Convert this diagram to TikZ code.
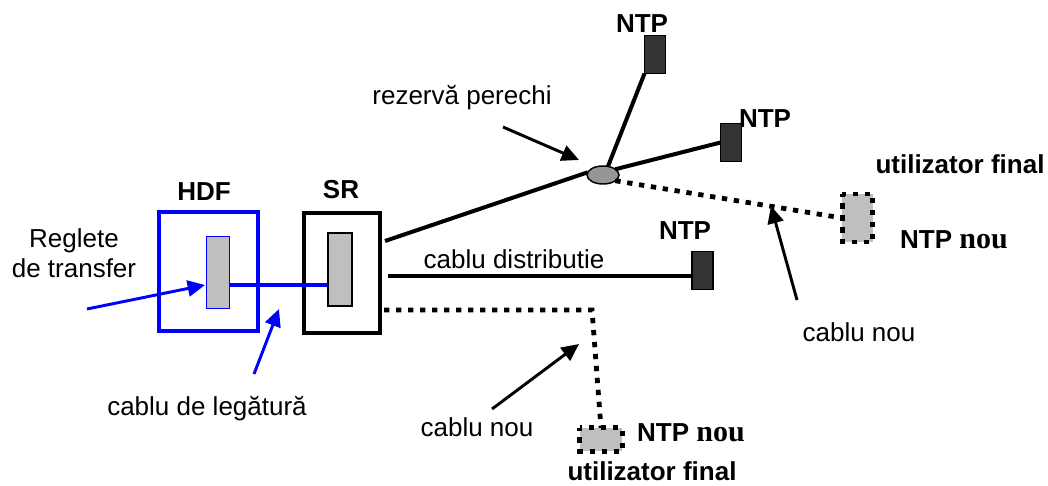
\documentclass[tikz,border=0pt]{standalone}
\usepackage{fontspec}
\setmainfont{Liberation Sans}
\newfontfamily\timesb{Liberation Serif}
\usetikzlibrary{arrows.meta,shapes.geometric}
\definecolor{hdfblue}{RGB}{0,0,255}
\definecolor{ntpdark}{RGB}{51,51,51}
\definecolor{panelgray}{RGB}{191,191,191}
\definecolor{ovalgray}{RGB}{150,150,150}
\tikzset{
  lbl/.style={inner sep=0pt,outer sep=0pt,anchor=base,font=\fontsize{19.5}{22}\selectfont},
  blbl/.style={lbl,font=\fontsize{19.5}{22}\selectfont\bfseries},
  box/.style={draw,inner sep=0pt,outer sep=0pt,rectangle},
  ntpbox/.style={box,fill=ntpdark,line width=1.3pt,minimum width=15.75pt,minimum height=28.5pt},
  newbox/.style={inner sep=0pt,outer sep=0pt,rectangle,fill=panelgray},
  dots/.style={line width=3.6pt,dash pattern=on 4pt off 5pt},
  wire/.style={line width=3pt},
  callout/.style={line width=2.2pt,-{Triangle[length=13pt,width=12pt]}},
}
\begin{document}
\begin{tikzpicture}[x=0.75pt,y=-0.75pt]
\useasboundingbox (0,0) rectangle (1048,485);
% HDF
\node[box,draw=hdfblue,line width=3pt,minimum width=74.5pt,minimum height=89pt] (hdf) at (208.3,271.5) {};
\node[box,draw=hdfblue,fill=panelgray,line width=1pt,minimum width=17.5pt,minimum height=54pt] (hdfin) at (218,272.5) {};
% SR
\node[box,line width=3pt,minimum width=57.5pt,minimum height=89.5pt] (sr) at (342,273) {};
\node[box,fill=panelgray,line width=1.4pt,minimum width=17.5pt,minimum height=54.5pt] (srin) at (340,269.5) {};
% NTP
\node[ntpbox] (ntpa) at (655,54.5) {};
\node[ntpbox] (ntpb) at (731,142.5) {};
\node[ntpbox] (ntpc) at (702.5,270.5) {};
% New terminals
\node[newbox,minimum width=23pt,minimum height=36pt] (newa) at (857.5,218) {};
\draw[dots,dash phase=2pt] (newa.north west) rectangle (newa.south east);
\node[newbox,minimum width=32pt,minimum height=17.5pt] (newb) at (601,439.5) {};
\draw[dots,dash phase=2pt] (newb.north west) rectangle (newb.south east);
% Splice
\node[draw,ellipse,fill=ovalgray,line width=1.1pt,inner sep=0pt,outer sep=0pt,minimum width=24pt,minimum height=13.5pt] (oval) at (603,175) {};
% Free ends
\coordinate (srtop) at (385,241);
\coordinate (srmid) at (388,276);
\coordinate (srlow) at (384,310);
\coordinate (bend) at (592,310);
\coordinate (arrA) at (87,309);
\coordinate (arrAe) at (205,285);
\coordinate (arrB) at (254,374);
\coordinate (arrBe) at (279,309);
\coordinate (arrC) at (503,127);
\coordinate (arrCe) at (579,160);
\coordinate (arrD) at (797,300);
\coordinate (arrDe) at (771,206);
\coordinate (arrE) at (492,409);
\coordinate (arrEe) at (579,344);
% Wires
\draw[wire] (srtop) -- (oval.170);
\draw[wire] (oval.60) -- (ntpa.south west);
\draw[wire] (oval.25) -- (ntpb.west);
\draw[wire] (srmid) -- (srmid -| ntpc.west);
\draw[wire,draw=hdfblue] (hdfin.east |- 0,285) -- (srin.west |- 0,285);
\draw[dots] (oval.335) -- (newa.west);
\draw[dots] (srlow) -- (bend) -- (newb.north);
% Callouts
\draw[callout,draw=hdfblue,fill=hdfblue] (arrA) -- (arrAe);
\draw[callout,draw=hdfblue,fill=hdfblue] (arrB) -- (arrBe);
\draw[callout] (arrC) -- (arrCe);
\draw[callout] (arrD) -- (arrDe);
\draw[callout] (arrE) -- (arrEe);
% Labels
\node[blbl] (thdf) at (204,200) {HDF};
\node[blbl] (tsr) at (341,198) {SR};
\node[lbl] (treg) at (74,247) {Reglete};
\node[lbl] (ttr) at (74,277) {de transfer};
\node[lbl] (tleg) at (207,415) {cablu de legătură};
\node[lbl] (trez) at (462,104) {rezervă perechi};
\node[lbl] (tdis) at (514,268) {cablu distributie};
\node[lbl] (tnoua) at (859,341) {cablu nou};
\node[lbl] (tnoub) at (477,436) {cablu nou};
\node[blbl] (tna) at (642,33) {NTP};
\node[blbl] (tnb) at (765,127) {NTP};
\node[blbl] (tnc) at (685,239) {NTP};
\node[blbl] (tua) at (960,173) {utilizator final};
\node[blbl] (tub) at (652,480) {utilizator final};
\node[blbl] (tnna) at (954,248) {NTP {\timesb\fontsize{22.5}{24}\selectfont nou}};
\node[blbl] (tnnb) at (691,441) {NTP {\timesb\fontsize{22.5}{24}\selectfont nou}};
\end{tikzpicture}
\end{document}
